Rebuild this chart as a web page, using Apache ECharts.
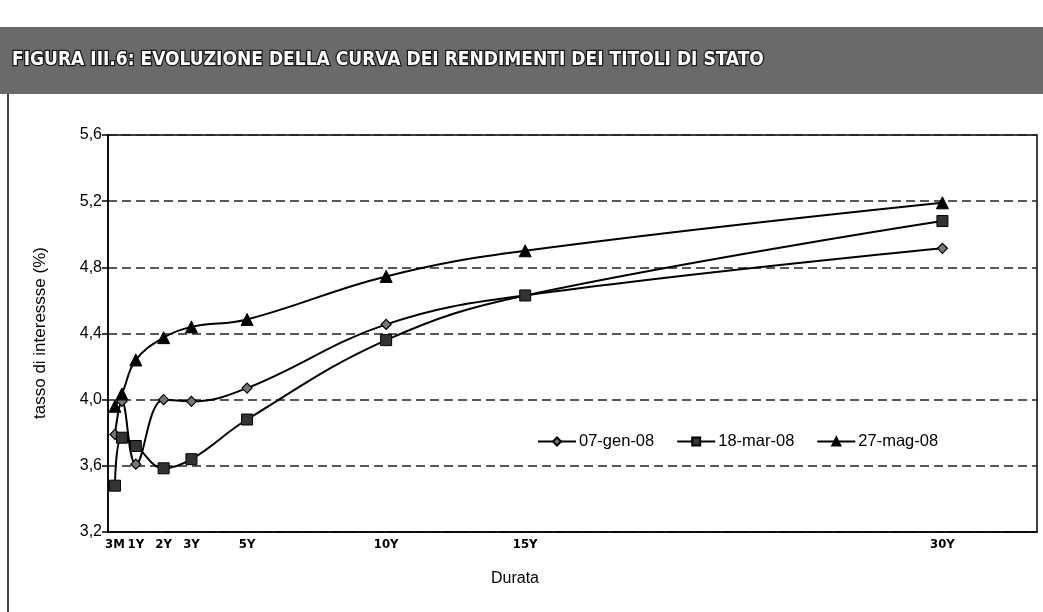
<!DOCTYPE html>
<html>
<head>
<meta charset="utf-8">
<script src="https://cdn.jsdelivr.net/npm/echarts@6/dist/echarts.min.js"></script>
<style>
  html, body { margin: 0; padding: 0; background: #fff; }
  #main { width: 1043px; height: 612px; }
</style>
</head>
<body>
<div id="main"></div>
<script>
  // scadenze in anni
  var durate = [0.25, 0.5, 1, 2, 3, 5, 10, 15, 30];
  var tickValues = [0.25, 1, 2, 3, 5, 10, 15, 30];
  var tickLabels = ['3M', '1Y', '2Y', '3Y', '5Y', '10Y', '15Y', '30Y'];

  var gen08 = [3.79, 3.99, 3.61, 4.00, 3.99, 4.07, 4.455, 4.63, 4.915];
  var mar08 = [3.48, 3.77, 3.72, 3.585, 3.64, 3.88, 4.36, 4.63, 5.08];
  var mag08 = [3.96, 4.035, 4.24, 4.375, 4.44, 4.485, 4.745, 4.90, 5.19];

  var nomi = ['07-gen-08', '18-mar-08', '27-mag-08'];

  function coppie(valori) {
    return durate.map(function (d, i) { return [d, valori[i]]; });
  }

  var myChart = echarts.init(document.getElementById('main'));

  var serieBase = {
    type: 'line',
    smooth: 0.4,
    lineStyle: { color: '#000', width: 2 },
    emphasis: { disabled: true }
  };

  var option = {
    animation: false,
    textStyle: { fontFamily: 'Liberation Sans, Arial, sans-serif' },
    grid: {
      left: 108, right: 6, top: 135, bottom: 80,
      show: true, borderColor: '#000', borderWidth: 1.5
    },
    legend: {
      left: 532, top: 428,
      itemWidth: 38, itemHeight: 10, itemGap: 22,
      textStyle: { fontSize: 16.5, color: '#000', padding: [0, 0, 0, -2] },
      data: nomi
    },
    xAxis: {
      type: 'value',
      min: 0, max: 33.4,
      axisLine: { lineStyle: { color: '#000', width: 1.5 } },
      axisTick: { show: false },
      splitLine: { show: false },
      axisLabel: {
        customValues: tickValues,
        margin: 6,
        color: '#000',
        fontSize: 13,
        fontWeight: 'bold',
        fontFamily: 'Liberation Sans Narrow, DejaVu Sans Condensed, sans-serif',
        formatter: function (v) {
          var i = tickValues.indexOf(v);
          return i >= 0 ? tickLabels[i] : '';
        }
      }
    },
    yAxis: {
      type: 'value',
      min: 3.2, max: 5.6, interval: 0.4,
      axisLine: { show: true, lineStyle: { color: '#000', width: 1.5 } },
      axisTick: { show: true, length: 6, lineStyle: { color: '#000', width: 1.5 } },
      axisLabel: {
        margin: 6,
        color: '#000',
        fontSize: 16,
        formatter: function (v) { return v.toFixed(1).replace('.', ','); }
      },
      splitLine: { lineStyle: { color: '#222', width: 1.5, type: [9, 5] } }
    },
    graphic: [
      { type: 'rect', shape: { x: 0, y: 27, width: 1043, height: 67 }, style: { fill: '#6a6a6a' } },
      {
        type: 'text', x: 12, y: 60,
        style: {
          text: 'FIGURA III.6: EVOLUZIONE DELLA CURVA DEI RENDIMENTI DEI TITOLI DI STATO',
          fill: '#fff', stroke: '#1a1a1a', lineWidth: 2.5,
          font: 'bold 19px "DejaVu Sans Condensed", sans-serif',
          textVerticalAlign: 'middle'
        }
      },
      { type: 'line', shape: { x1: 8, y1: 94, x2: 8, y2: 612 }, style: { stroke: '#000', lineWidth: 1.5 } },
      {
        type: 'text', x: 40, y: 333, rotation: Math.PI / 2,
        style: {
          text: 'tasso di interessse (%)', fill: '#000',
          font: '17px "Liberation Sans", Arial, sans-serif',
          textAlign: 'center', textVerticalAlign: 'middle'
        }
      },
      {
        type: 'text', x: 515, y: 579,
        style: {
          text: 'Durata', fill: '#000',
          font: '16px "Liberation Sans", Arial, sans-serif',
          textAlign: 'center', textVerticalAlign: 'middle'
        }
      }
    ],
    series: [
      Object.assign({}, serieBase, {
        name: nomi[0], symbol: 'diamond', symbolSize: 10,
        itemStyle: { color: '#777', borderColor: '#000', borderWidth: 1.2 },
        data: coppie(gen08)
      }),
      Object.assign({}, serieBase, {
        name: nomi[1], symbol: 'rect', symbolSize: 11,
        itemStyle: { color: '#333', borderColor: '#000', borderWidth: 1 },
        data: coppie(mar08)
      }),
      Object.assign({}, serieBase, {
        name: nomi[2], symbol: 'triangle', symbolSize: 12,
        itemStyle: { color: '#000', borderColor: '#000', borderWidth: 1 },
        data: coppie(mag08)
      })
    ]
  };

  myChart.setOption(option);
</script>
</body>
</html>
